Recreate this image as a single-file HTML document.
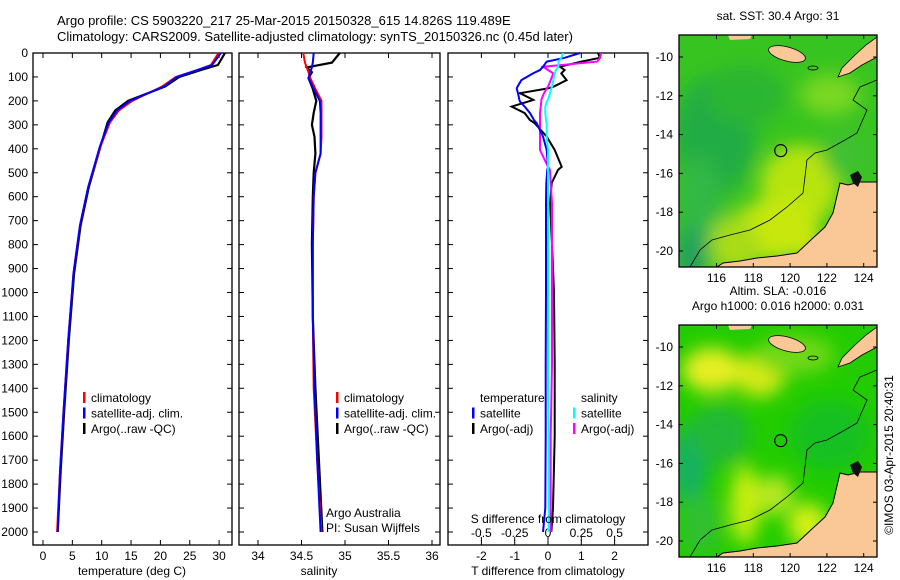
<!DOCTYPE html>
<html><head><meta charset="utf-8"><style>
body{margin:0;background:#fff;overflow:hidden;}
svg{display:block;font-family:"Liberation Sans",sans-serif;}
</style></head><body>
<svg id="fig" width="900" height="580" viewBox="0 0 900 580" xmlns="http://www.w3.org/2000/svg">
<defs>
<filter id="blur" x="-50%" y="-50%" width="200%" height="200%"><feGaussianBlur stdDeviation="9"/></filter>
<clipPath id="cm1"><rect x="679" y="35" width="198" height="232"/></clipPath>
<clipPath id="cm2"><rect x="679" y="325" width="198" height="232"/></clipPath>
</defs>
<text x="57" y="25" font-size="13">Argo profile: CS 5903220_217 25-Mar-2015 20150328_615 14.826S 119.489E</text>
<text x="57" y="41" font-size="13">Climatology: CARS2009. Satellite-adjusted climatology: synTS_20150326.nc (0.45d later)</text>
<g id="g"></g>
</svg>
<script>
// ---- data ----
const depthTicks=[0,100,200,300,400,500,600,700,800,900,1000,1100,1200,1300,1400,1500,1600,1700,1800,1900,2000];
const tDepth=[0,50,70,100,140,200,240,290,390,560,720,920,1200,1500,1750,2000];
const tempClim=[29.9,28.6,26.4,22.6,20.3,15.2,12.9,11.4,9.8,7.7,6.3,5.2,4.3,3.5,2.9,2.4];
const tempSat=[30.3,28.8,26.4,22.8,20.6,14.8,12.6,11.2,9.7,7.7,6.3,5.2,4.3,3.5,2.9,2.5];
const tempArgo=[31.0,29.8,27.0,23.2,20.8,14.5,12.3,11.0,9.8,7.8,6.4,5.3,4.4,3.6,3.0,2.5];
const sDepth=[0,40,60,80,105,150,200,250,300,350,420,500,600,800,1100,1400,1700,2000];
const salClim=[34.52,34.54,34.56,34.58,34.60,34.66,34.73,34.73,34.73,34.73,34.72,34.66,34.64,34.63,34.63,34.64,34.68,34.73];
const salSat=[34.64,34.63,34.62,34.60,34.58,34.64,34.71,34.72,34.72,34.72,34.72,34.66,34.64,34.63,34.63,34.65,34.68,34.72];
const salArgo=[34.94,34.85,34.56,34.62,34.58,34.63,34.67,34.64,34.62,34.65,34.66,34.64,34.63,34.62,34.63,34.66,34.70,34.74];
const dDepth=[0,20,36,57,71,85,113,141,148,168,196,203,224,251,280,293,349,405,475,488,543,627,800,1000,1300,1600,1900,2000];
const dTSat=[0.96,0.5,-0.04,-0.15,-0.24,-0.45,-0.8,-0.92,-0.94,-0.9,-0.86,-0.84,-0.7,-0.54,-0.42,-0.34,-0.15,-0.04,0,-0.02,-0.05,-0.06,-0.06,-0.06,-0.07,-0.07,-0.08,-0.15];
const dTArgo=[1.5,1.56,1.0,0.36,0.5,0.4,0.56,0.16,0.0,-0.84,-0.44,-0.6,-1.09,-0.7,-0.54,-0.4,-0.04,0.2,0.41,0.3,0.11,0.06,0.12,0.18,0.2,0.2,0.15,0.1];
const dSSat=[0.115,0.1,0.08,0.077,0.06,0.05,0.04,0.03,0.025,0.015,0.0,-0.01,-0.02,-0.02,-0.015,-0.01,-0.01,0.0,0.0,0.0,0.0,0.0,0.0,0.0,0.0,0.005,0.005,0.005];
const dSArgo=[0.40,0.39,0.37,-0.035,0.0,0.04,0.02,0.0,-0.01,-0.03,-0.05,-0.05,-0.055,-0.06,-0.06,-0.06,-0.06,-0.06,0.0,0.015,0.02,0.03,0.03,0.03,0.03,0.02,0.02,0.02];
const tTicks=[0,5,10,15,20,25,30];
const sTicks=[34,34.5,35,35.5,36];
const tdTicks=[-2,-1,0,1,2];
const sdTicks=[-0.5,-0.25,0,0.25,0.5];
const lonTicks=[116,118,120,122,124];
const latTicks=[-10,-12,-14,-16,-18,-20];
const argoLon=119.489, argoLat=-14.826;

const NS="http://www.w3.org/2000/svg";
const G=document.getElementById('g');
function el(tag,attrs,parent,txt){const e=document.createElementNS(NS,tag);for(const k in attrs)e.setAttribute(k,attrs[k]);if(txt!==undefined)e.textContent=txt;(parent||G).appendChild(e);return e;}
const Y0=53,Y1=545;
const yD=d=>Y0+d*0.2395;

function panel(name,x0,x1,xs,xticks,fmt){
  const grp=el('g',{});
  
  
  const r=el('rect',{x:x0,y:Y0,width:x1-x0,height:Y1-Y0,fill:'none',stroke:'#000','stroke-width':1.3},grp);
  
  
  depthTicks.forEach(d=>{const y=yD(d);el('line',{x1:x0,x2:x0+5,y1:y,y2:y,stroke:'#000'},grp);el('line',{x1:x1,x2:x1-5,y1:y,y2:y,stroke:'#000'},grp);});
  if(xticks) xticks.forEach(v=>{const x=xs(v);el('line',{x1:x,x2:x,y1:Y1,y2:Y1-5,stroke:'#000'},grp);el('line',{x1:x,x2:x,y1:Y0,y2:Y0+5,stroke:'#000'},grp);
    const t=el('text',{x:x,y:560,'font-size':12,'text-anchor':'middle'},grp,fmt(v));
    
    });
  return grp;
}
function line(grp,xs,vals,depths,color,w,name){
  const pts=vals.map((v,i)=>xs(v).toFixed(1)+','+yD(depths[i]).toFixed(1)).join(' ');
  const p=el('polyline',{points:pts,fill:'none',stroke:color,'stroke-width':w||2},grp);
  
  
}
function legend(grp,x,y,items){
  items.forEach((it,i)=>{const yy=y+i*15.5;
    if(it[0])el('rect',{x:x,y:yy-10,width:2.5,height:11,fill:it[0]},grp);
    const t=el('text',{x:x+8,y:yy,'font-size':12},grp,it[1]);
    
    });
}

depthTicks.forEach(d=>{const t=el('text',{x:28,y:yD(d)+4,'font-size':12,'text-anchor':'end'},G,String(d));
  
  });

// panel 1
const xT=v=>43+v*5.87;
const p1=panel('temperature-panel',33,232,xT,tTicks,v=>String(v));
line(p1,xT,tempArgo,tDepth,'#000',2.2,'temp-argo-line');
line(p1,xT,tempClim,tDepth,'#f00',2,'temp-clim-line');
line(p1,xT,tempSat,tDepth,'#00f',2,'temp-sat-line');
legend(p1,83,402,[['#f00','climatology'],['#00f','satellite-adj. clim.'],['#000','Argo(..raw -QC)']]);
el('text',{x:132,y:575,'font-size':12,'text-anchor':'middle'},p1,'temperature (deg C)');

// panel 2
const xS=v=>258+(v-34)*87;
const p2=panel('salinity-panel',239,440,xS,sTicks,v=>String(v));
line(p2,xS,salArgo,sDepth,'#000',2.2,'sal-argo-line');
line(p2,xS,salClim,sDepth,'#f00',2,'sal-clim-line');
line(p2,xS,salSat,sDepth,'#00f',2,'sal-sat-line');
legend(p2,336,402,[['#f00','climatology'],['#00f','satellite-adj. clim.'],['#000','Argo(..raw -QC)']]);
el('text',{x:326,y:517,'font-size':12},p2,'Argo Australia');
el('text',{x:326,y:532,'font-size':12},p2,'PI: Susan Wijffels');
el('text',{x:319,y:575,'font-size':12,'text-anchor':'middle'},p2,'salinity');

// panel 3
const xDT=v=>548+v*33.3;
const xDS=v=>548+v*133.2;
const p3=panel('difference-panel',448,648,xDT,tdTicks,v=>String(v));
sdTicks.forEach(v=>{const x=xDS(v);el('line',{x1:x,x2:x,y1:Y1-8,y2:Y1-4,stroke:'#000'},p3);
  const t=el('text',{x:x,y:537,'font-size':12,'text-anchor':'middle'},p3,String(v));
  
  });
line(p3,xDT,dTArgo,dDepth,'#000',2,'tdiff-argo-line');
line(p3,xDS,dSArgo,dDepth,'#f0f',2,'sdiff-argo-line');
line(p3,xDT,dTSat,dDepth,'#00f',2,'tdiff-sat-line');
line(p3,xDS,dSSat,dDepth,'#0ff',2,'sdiff-sat-line');
legend(p3,472,402,[[null,'temperature'],['#00f','satellite'],['#000','Argo(-adj)']]);
legend(p3,573,402,[[null,'salinity'],['#0ff','satellite'],['#f0f','Argo(-adj)']]);
el('text',{x:548,y:523,'font-size':12,'text-anchor':'middle'},p3,'S difference from climatology');
el('text',{x:548,y:575,'font-size':12,'text-anchor':'middle'},p3,'T difference from climatology');

// maps
const lonX=v=>716.5+(v-116)*18.4;
function map(name,top,blobs,title){
  const latY=v=>top+22+(-10-v)*19.4;
  const grp=el('g',{});
  
  
  const cg=el('g',{'clip-path':'url(#'+(top<100?'cm1':'cm2')+')'},grp);
  el('rect',{x:679,y:top,width:198,height:232,fill:blobs.base},cg);
  const bg=el('g',{filter:'url(#blur)'},cg);
  blobs.list.forEach(b=>el('ellipse',{cx:b[0],cy:top+b[1],rx:b[2],ry:b[3],fill:b[4]},bg));
  const sh=(pts)=>pts.map(p=>p[0]+','+(top+p[1])).join(' ');
  const coast=[[877,147],[860,147],[848,150],[840,148],[836,165],[833,178],[825,192],[813,203],[797,218],[777,221],[757,223],[740,226],[723,228],[717,232]];
  el('polygon',{points:sh(coast.concat([[717,240],[890,240],[890,140]])),fill:'#f9c896'},cg);
  el('polyline',{points:sh(coast),fill:'none',stroke:'#000','stroke-width':1},cg);
  el('polygon',{points:sh([[850,140],[858,136],[862,142],[858,152],[853,148]]),fill:'#111'},cg);
  el('ellipse',{cx:787,cy:top+19,rx:19,ry:7,fill:'#f9c896',stroke:'#000','stroke-width':0.8,transform:'rotate(15 787 '+(top+19)+')'},cg);
  el('polygon',{points:sh([[877,2],[877,22],[862,30],[850,38],[838,42],[842,33],[855,20],[866,10]]),fill:'#f9c896',stroke:'#000','stroke-width':0.8},cg);
  el('polygon',{points:sh([[727,-2],[753,-2],[750,4],[730,5]]),fill:'#f9c896'},cg);
  el('ellipse',{cx:813,cy:top+33,rx:5,ry:2,fill:'none',stroke:'#000','stroke-width':0.8},cg);
  el('polyline',{points:sh([[690,232],[700,215],[712,205],[730,200],[750,195],[770,185],[787,172],[803,158],[807,125],[815,118],[827,115],[845,105],[857,98],[867,75],[853,65],[860,52],[877,45]]),fill:'none',stroke:'#000','stroke-width':0.8},cg);
  el('rect',{x:679,y:top,width:198,height:232,fill:'none',stroke:'#000','stroke-width':1.3},grp);
  const c=el('circle',{cx:lonX(argoLon),cy:latY(argoLat),r:6,fill:'none',stroke:'#000','stroke-width':1.2},grp);
  
  
  lonTicks.forEach(v=>{const x=lonX(v);el('line',{x1:x,x2:x,y1:top,y2:top+4,stroke:'#000'},grp);el('line',{x1:x,x2:x,y1:top+232,y2:top+228,stroke:'#000'},grp);
    el('text',{x:x,y:top+247,'font-size':12,'text-anchor':'middle'},grp,String(v));});
  latTicks.forEach(v=>{const y=latY(v);el('line',{x1:679,x2:683,y1:y,y2:y,stroke:'#000'},grp);el('line',{x1:877,x2:873,y1:y,y2:y,stroke:'#000'},grp);
    el('text',{x:673,y:y+4,'font-size':12,'text-anchor':'end'},grp,String(v));});
  title.forEach((t,i)=>el('text',{x:778,y:top-15+i*15-(title.length-1)*15,'font-size':12,'text-anchor':'middle'},grp,t));
}
map('sst-map',35,{base:'#38c420',list:[[715,100,40,60,'#22ac45'],[745,60,40,30,'#2cb532'],[700,170,22,50,'#30b845'],[800,150,40,40,'#b8e410'],[775,195,45,30,'#c8e808'],[735,210,25,30,'#a8dc18'],[818,225,12,18,'#f0d010'],[845,120,22,25,'#40c030'],[830,60,30,20,'#7ad820'],[692,222,15,30,'#20a060']]},['sat. SST: 30.4  Argo: 31']);
map('sla-map',325,{base:'#22cc00',list:[[712,45,30,22,'#e8ee22'],[760,50,25,22,'#d8ea18'],[690,140,18,40,'#18b064'],[720,110,30,30,'#20b838'],[745,180,15,40,'#c8ee10'],[775,170,18,20,'#b8e820'],[808,200,20,22,'#d8f018'],[795,30,40,20,'#70d812'],[830,110,40,35,'#12c020'],[700,200,20,30,'#30c030']]},['Altim. SLA: -0.016','Argo h1000: 0.016 h2000: 0.031']);
const st=el('text',{x:0,y:0,'font-size':12,'text-anchor':'middle',transform:'translate(893 455) rotate(-90)'},G,'©IMOS 03-Apr-2015 20:40:31');


</script>
</body></html>
